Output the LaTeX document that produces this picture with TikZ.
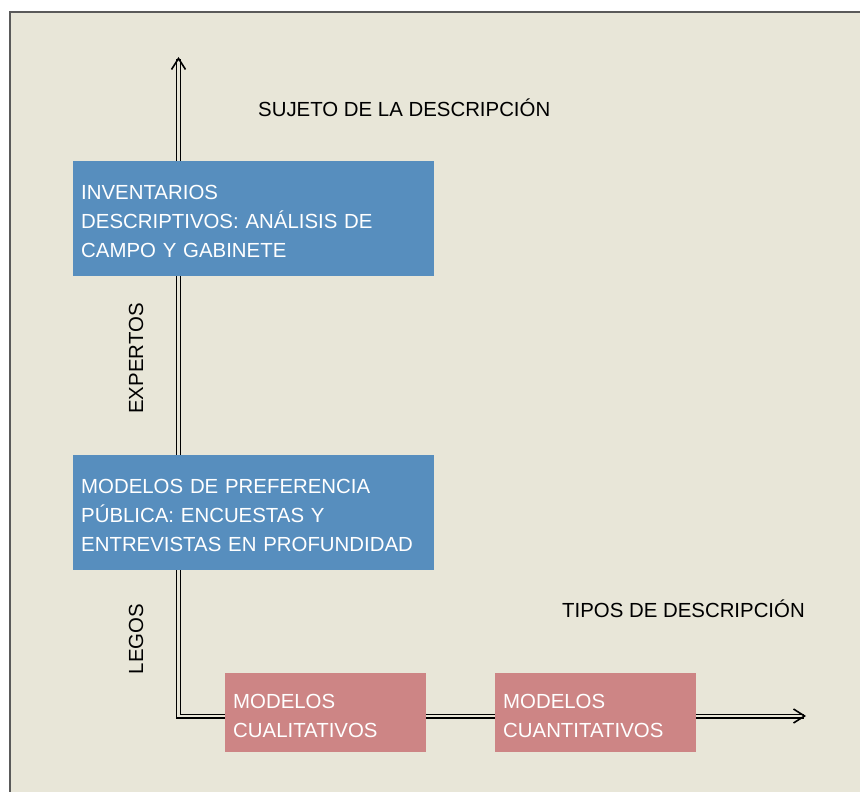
\documentclass[tikz,border=0pt]{standalone}
\usepackage{fontspec}
\setmainfont{Liberation Sans}
\usetikzlibrary{arrows.meta}
\definecolor{crema}{RGB}{232,230,216}
\definecolor{azul}{RGB}{87,142,190}
\definecolor{rosa}{RGB}{205,133,133}
\definecolor{marco}{RGB}{90,90,90}

\begin{document}
\begin{tikzpicture}[x=1pt,y=-1pt,
    every node/.style={font=\fontsize{20.4}{29}\selectfont},
    axis/.style={draw=black,line width=1.2pt,double=crema,double distance=2.6pt,
      {Straight Barb[length=11pt,width=14pt,line width=1.6pt]}-{Straight Barb[length=11pt,width=14pt,line width=1.6pt]}},
    caja/.style={anchor=north west,inner xsep=8pt,inner ysep=0pt,align=left,text=white},
    cajaazul/.style={caja,fill=azul,text width=345pt,text height=38pt,text depth=76.5pt},
    cajarosa/.style={caja,fill=rosa,text width=185pt,text height=35pt,text depth=44pt}]
    \useasboundingbox (0,0) rectangle (860,792);
    \draw[marco,fill=crema,line width=1.4pt] (10,12) rectangle (880,812);
    %\draw[lightgray,ultra thin,step=50] (0,0) grid (860,792);
    \coordinate (origen) at (178.5,716);
    \coordinate (ytope) at (178.5,57);
    \coordinate (xfin) at (806,716);
    \draw[axis] (ytope) -- (origen) -- (xfin);
    \node[cajaazul] (inventarios) at (73,161)
      {INVENTARIOS\\DESCRIPTIVOS: ANÁLISIS DE\\CAMPO Y GABINETE};
    \node[cajaazul] (preferencia) at (73,455)
      {MODELOS DE PREFERENCIA\\PÚBLICA: ENCUESTAS Y\\ENTREVISTAS EN PROFUNDIDAD};
    \node[cajarosa] (cualitativos) at (225,673) {MODELOS\\CUALITATIVOS};
    \node[cajarosa] (cuantitativos) at (495,673) {MODELOS\\CUANTITATIVOS};
    \node[anchor=base west,inner sep=0pt] (sujeto) at (258,117) {SUJETO DE LA DESCRIPCIÓN};
    \node[anchor=base west,inner sep=0pt] (tipos) at (562,617) {TIPOS DE DESCRIPCIÓN};
    \node[anchor=base,rotate=90,inner sep=0pt] (expertos) at (143,358.5) {EXPERTOS};
    \node[anchor=base,rotate=90,inner sep=0pt] (legos) at (143,639) {LEGOS};
\end{tikzpicture}
\end{document}
